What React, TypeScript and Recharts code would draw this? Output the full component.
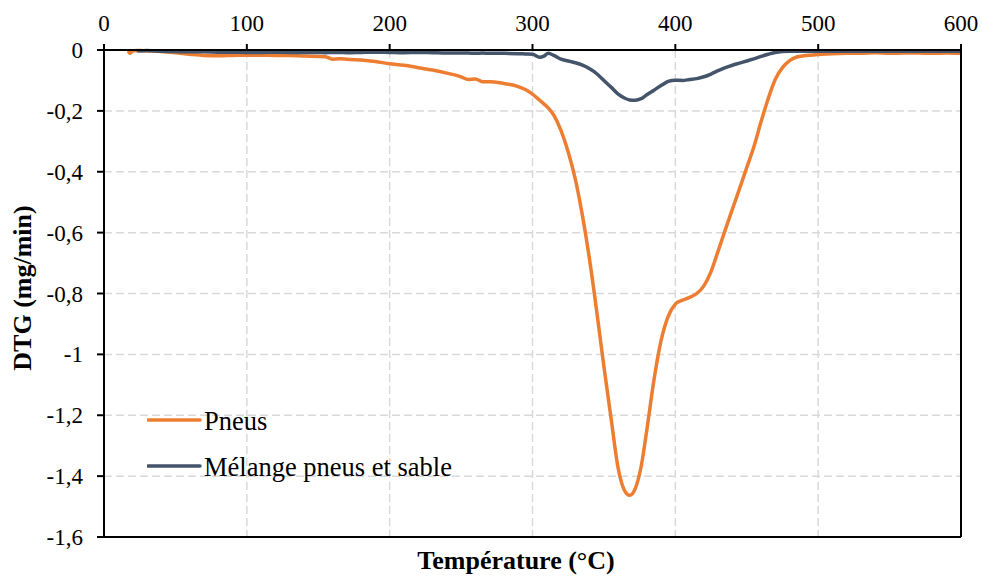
import React from 'react';
import { LineChart, Line, XAxis, YAxis, CartesianGrid, ReferenceLine, Legend } from 'recharts';

const temperatures = [
  17, 18, 20, 23, 25, 30, 40, 50, 60, 70,
  80, 90, 100, 110, 120, 130, 140, 150, 155, 160,
  165, 170, 180, 190, 200, 210, 220, 230, 240, 250,
  255, 260, 265, 270, 280, 290, 295, 300, 305, 308,
  311, 315, 320, 325, 330, 335, 340, 345, 350, 355,
  360, 364, 368, 372, 376, 380, 385, 390, 395, 400,
  405, 410, 415, 420, 425, 430, 435, 440, 445, 450,
  455, 460, 465, 470, 475, 480, 485, 490, 495, 500,
  510, 520, 530, 540, 550, 560, 570, 580, 590, 600,
];

const pneus = [
  -0.003, -0.011, -0.003, -0.002, -0.002, -0.003, -0.005, -0.009, -0.014, -0.018,
  -0.019, -0.018, -0.017, -0.017, -0.018, -0.018, -0.02, -0.021, -0.022, -0.03,
  -0.029, -0.03, -0.033, -0.038, -0.045, -0.05, -0.058, -0.066, -0.076, -0.088,
  -0.097, -0.095, -0.104, -0.104, -0.11, -0.12, -0.13, -0.145, -0.165, -0.177,
  -0.19, -0.215, -0.265, -0.335, -0.425, -0.545, -0.69, -0.86, -1.04, -1.21,
  -1.375, -1.443, -1.463, -1.44, -1.37, -1.25, -1.085, -0.955, -0.875, -0.835,
  -0.822, -0.813, -0.8, -0.775, -0.728, -0.66, -0.59, -0.522, -0.455, -0.386,
  -0.318, -0.236, -0.16, -0.096, -0.058, -0.035, -0.023, -0.019, -0.017, -0.015,
  -0.012, -0.011, -0.011, -0.009, -0.011, -0.01, -0.01, -0.011, -0.01, -0.011,
];

const melange = [
  null, null, null, -0.002, -0.003, -0.002, -0.004, -0.005, -0.006, -0.006,
  -0.007, -0.007, -0.008, -0.008, -0.007, -0.008, -0.008, -0.008, -0.009, -0.008,
  -0.008, -0.009, -0.008, -0.007, -0.008, -0.009, -0.008, -0.009, -0.01, -0.01,
  -0.01, -0.011, -0.01, -0.011, -0.011, -0.012, -0.013, -0.014, -0.024, -0.02,
  -0.011, -0.018, -0.03, -0.036, -0.042, -0.05, -0.062, -0.078, -0.1, -0.122,
  -0.145, -0.157, -0.164, -0.165, -0.16, -0.147, -0.132, -0.117, -0.103, -0.099,
  -0.1, -0.097, -0.094, -0.088, -0.079, -0.068, -0.058, -0.05, -0.043, -0.036,
  -0.029, -0.021, -0.014, -0.008, -0.005, -0.004, -0.004, -0.004, -0.004, -0.004,
  -0.004, -0.004, -0.004, -0.004, -0.004, -0.004, -0.004, -0.004, -0.004, -0.004,
];

const xTicks = [0, 100, 200, 300, 400, 500, 600];
const yTicks = [0, -0.2, -0.4, -0.6, -0.8, -1, -1.2, -1.4, -1.6];

const seriesNames = ['Pneus', 'Mélange pneus et sable'];
const seriesColors = ['#ED7D31', '#44546A'];

const data = temperatures.map((t, i) => ({ t, pneus: pneus[i], melange: melange[i] }));

const FONT = '"Liberation Serif", "Times New Roman", serif';

const fmtY = (v: number) => String(Number(v.toFixed(1))).replace('.', ',');

const XTick = (props: any) => {
  const { x, y, payload } = props;
  return (
    <text x={x} y={y} textAnchor="middle" fontFamily={FONT} fontSize={23} fill="#000">
      {String(payload.value)}
    </text>
  );
};

const YTick = (props: any) => {
  const { x, y, payload } = props;
  return (
    <text x={x} y={y + 8} textAnchor="end" fontFamily={FONT} fontSize={23} fill="#000">
      {fmtY(payload.value)}
    </text>
  );
};

const LegendContent = () => (
  <div style={{ fontFamily: FONT, fontSize: 26.5, color: '#000' }}>
    {seriesNames.map((name, i) => (
      <div key={name} style={{ display: 'flex', alignItems: 'center', height: 46 }}>
        <svg width={57} height={6} style={{ display: 'block' }}>
          <line x1={1} y1={3} x2={53} y2={3} stroke={seriesColors[i]} strokeWidth={3.5} strokeLinecap="round" />
        </svg>
        <span style={{ fontFamily: FONT, lineHeight: '26px', marginTop: 2 }}>{name}</span>
      </div>
    ))}
  </div>
);

export default function App() {
  return (
    <div style={{ position: 'absolute', left: 0, top: 0, width: 982, height: 576, background: '#fff' }}>
      <LineChart
        width={982}
        height={576}
        data={data}
        margin={{ top: 0, right: 21, bottom: 39, left: 0 }}
      >
        <CartesianGrid stroke="#d9d9d9" strokeWidth={1.5} strokeDasharray="8 4" />
        <XAxis
          dataKey="t"
          type="number"
          orientation="top"
          domain={[0, 600]}
          ticks={xTicks}
          height={50}
          axisLine={{ stroke: '#000', strokeWidth: 2 }}
          tickLine={{ stroke: '#000', strokeWidth: 2 }}
          tickSize={6}
          tickMargin={13}
          tick={XTick}
          interval={0}
        />
        <YAxis
          type="number"
          domain={[-1.6, 0]}
          ticks={yTicks}
          width={104}
          axisLine={{ stroke: '#000', strokeWidth: 2 }}
          tickLine={{ stroke: '#000', strokeWidth: 2 }}
          tickSize={7}
          tickMargin={14}
          tick={YTick}
          interval={0}
        />
        <Line
          type="monotone"
          dataKey="pneus"
          name={seriesNames[0]}
          stroke={seriesColors[0]}
          strokeWidth={3.5}
          dot={false}
          isAnimationActive={false}
        />
        <Line
          type="monotone"
          dataKey="melange"
          name={seriesNames[1]}
          stroke={seriesColors[1]}
          strokeWidth={3.5}
          dot={false}
          isAnimationActive={false}
        />
        <ReferenceLine x={600} stroke="#000" strokeWidth={2} />
        <ReferenceLine y={-1.6} stroke="#000" strokeWidth={2} />
        <Legend
          layout="vertical"
          align="center"
          verticalAlign="middle"
          content={LegendContent}
          wrapperStyle={{ left: 147, top: 397, width: 'auto', height: 'auto' }}
        />
      </LineChart>
      <svg
        width={982}
        height={576}
        style={{ position: 'absolute', left: 0, top: 0, pointerEvents: 'none' }}
      >
        <text
          x={516}
          y={569}
          textAnchor="middle"
          fontFamily={FONT}
          fontWeight="bold"
          fontSize={26}
          fill="#000"
        >
          Température (°C)
        </text>
        <text
          transform="translate(31,288) rotate(-90)"
          textAnchor="middle"
          fontFamily={FONT}
          fontWeight="bold"
          fontSize={26}
          fill="#000"
        >
          DTG (mg/min)
        </text>
      </svg>
    </div>
  );
}
